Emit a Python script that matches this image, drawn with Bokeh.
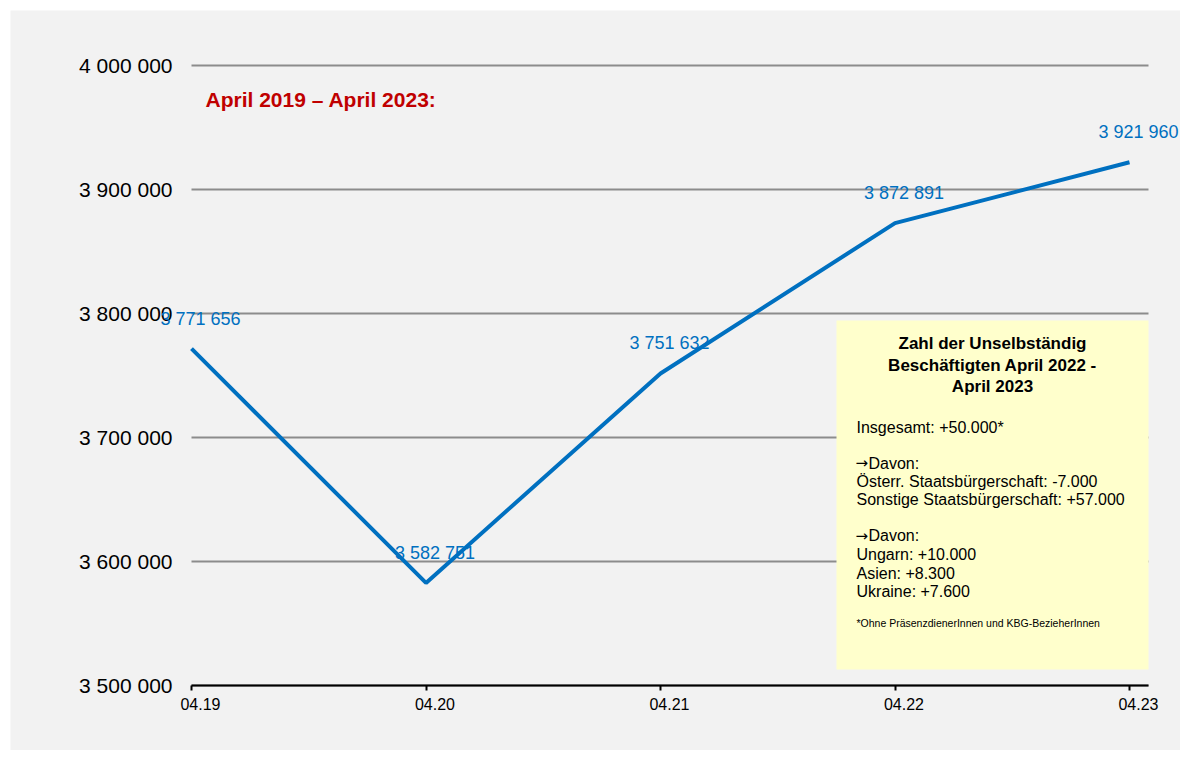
from bokeh.plotting import figure
from bokeh.models import (FixedTicker, Label, BoxAnnotation, Range1d, ColumnDataSource,
                          LinearAxis, CustomJSTickFormatter)
from bokeh.embed import file_html
from bokeh.resources import INLINE

# ---- data ----
months = ["04.19", "04.20", "04.21", "04.22", "04.23"]
employed = [3771656, 3582751, 3751632, 3872891, 3921960]
y_ticks = [3500000, 3600000, 3700000, 3800000, 3900000, 4000000]
period_text = "April 2019 \u2013 April 2023:"
box_title = ["Zahl der Unselbst\u00e4ndig", "Besch\u00e4ftigten April 2022 -", "April 2023"]
box_lines = [
    "Insgesamt: +50.000*",
    "\u2192Davon:",
    "\u00d6sterr. Staatsb\u00fcrgerschaft: -7.000",
    "Sonstige Staatsb\u00fcrgerschaft: +57.000",
    "\u2192Davon:",
    "Ungarn: +10.000",
    "Asien: +8.300",
    "Ukraine: +7.600",
]
footnote = "*Ohne Pr\u00e4senzdienerInnen und KBG-BezieherInnen"


def fmt(v):
    return f"{v:,}".replace(",", " ")


FONT = "Liberation Sans"
BG = "#f2f2f2"
BLUE = "#0070c0"

# page geometry (pixels) used only to place annotations / ranges
M = 10                      # white page margin around the grey chart area
W, H = 1170, 740
FX0, FX1, FY0, FY1 = 191, 1148, 65, 685
XSTEP = 234.5
Y_LO, Y_HI = 3500000, 4000000
UNITS_PER_PX = (Y_HI - Y_LO) / (FY1 - FY0)
X_END = (FX1 - FX0) / XSTEP


def dx(px):
    return (px - FX0) / XSTEP


def dy(py):
    return Y_HI - (py - FY0) * UNITS_PER_PX


def text_y(base_px, size_px):
    # annotation text is placed by its optical centre; convert a baseline position
    return dy(base_px - 0.36 * size_px)


xs = list(range(len(months)))
src = ColumnDataSource(dict(x=xs, y=employed))

p = figure(width=W, height=H, output_backend="svg", toolbar_location=None,
           x_range=Range1d(dx(M), dx(M + W)),
           y_range=Range1d(dy(M + H), dy(M)),
           min_border=0)
p.margin = (M, M, M, M)
p.background_fill_color = BG
p.border_fill_color = BG
p.outline_line_color = None

# grid
p.xgrid.grid_line_color = None
p.ygrid.grid_line_color = "#8c8c8c"
p.ygrid.grid_line_width = 2
p.ygrid.ticker = FixedTicker(ticks=y_ticks)
p.ygrid.cross_bounds = (0, X_END)

# y axis (pinned at the first category)
p.yaxis.fixed_location = 0
p.yaxis.ticker = FixedTicker(ticks=y_ticks)
p.yaxis.major_label_overrides = {t: fmt(t) for t in y_ticks}
p.yaxis.axis_line_color = None
p.yaxis.major_tick_line_color = None
p.yaxis.minor_tick_line_color = None
p.yaxis.major_tick_out = 0
p.yaxis.major_tick_in = 0
p.yaxis.major_label_standoff = 19
p.yaxis.major_label_text_font = FONT
p.yaxis.major_label_text_font_size = "21px"
p.yaxis.major_label_text_color = "black"

# x axis: line + tick marks
p.xaxis.fixed_location = Y_LO
p.xaxis.bounds = (0, X_END)
p.xaxis.ticker = FixedTicker(ticks=xs)
p.xaxis.major_label_text_color = None
p.xaxis.axis_line_color = "black"
p.xaxis.axis_line_width = 2
p.xaxis.major_tick_line_color = "black"
p.xaxis.major_tick_line_width = 2
p.xaxis.major_tick_out = 5
p.xaxis.major_tick_in = 0
p.xaxis.minor_tick_line_color = None

# x axis labels: sit slightly right of the tick marks, as in the original
lab_axis = LinearAxis(
    ticker=FixedTicker(ticks=[x + 9 / XSTEP for x in xs]),
    formatter=CustomJSTickFormatter(args=dict(labels=months), code="return labels[index]"),
    fixed_location=Y_LO,
    axis_line_color=None, major_tick_line_color=None, minor_tick_line_color=None,
    major_tick_out=0, major_tick_in=0, major_label_standoff=12,
    major_label_text_font=FONT, major_label_text_font_size="16px",
    major_label_text_color="black")
p.add_layout(lab_axis, "below")

# series
p.line("x", "y", source=src, line_color=BLUE, line_width=4)
for x, v in zip(xs, employed):
    p.add_layout(Label(x=x, y=v, text=fmt(v), x_offset=9, y_offset=30,
                       text_align="center", text_baseline="alphabetic",
                       text_font=FONT, text_font_size="18px", text_color=BLUE))

# period title
p.add_layout(Label(x=dx(205), y=text_y(107, 21), text=period_text, text_align="left",
                   text_baseline="alphabetic", text_font=FONT, text_font_size="21px",
                   text_font_style="bold", text_color="#c00000"))

# info box
p.add_layout(BoxAnnotation(left=dx(836), right=X_END, top=dy(320), bottom=dy(669),
                           fill_color="#ffffcc", fill_alpha=1.0, line_color=None))

for line, base in zip(box_title, [349, 371.5, 392]):
    p.add_layout(Label(x=dx(992), y=text_y(base, 17), text=line, text_align="center",
                       text_baseline="alphabetic", text_font=FONT, text_font_size="17px",
                       text_font_style="bold", text_color="black"))

for line, base in zip(box_lines, [432.7, 468.3, 486.7, 505, 541, 560, 578.3, 596.7]):
    if line.startswith("\u2192"):
        p.add_layout(Label(x=dx(855), y=text_y(base, 16), text="\u2192", text_align="left",
                           text_baseline="alphabetic", text_font="DejaVu Sans",
                           text_font_size="15px", text_color="black"))
        p.add_layout(Label(x=dx(868), y=text_y(base, 16), text=line[1:], text_align="left",
                           text_baseline="alphabetic", text_font=FONT, text_font_size="16px",
                           text_color="black"))
    else:
        p.add_layout(Label(x=dx(856), y=text_y(base, 16), text=line, text_align="left",
                           text_baseline="alphabetic", text_font=FONT, text_font_size="16px",
                           text_color="black"))

p.add_layout(Label(x=dx(856), y=text_y(626.7, 10.5), text=footnote, text_align="left",
                   text_baseline="alphabetic", text_font=FONT, text_font_size="10.5px",
                   text_color="black"))

open("out.html", "w").write(file_html(p, INLINE))
